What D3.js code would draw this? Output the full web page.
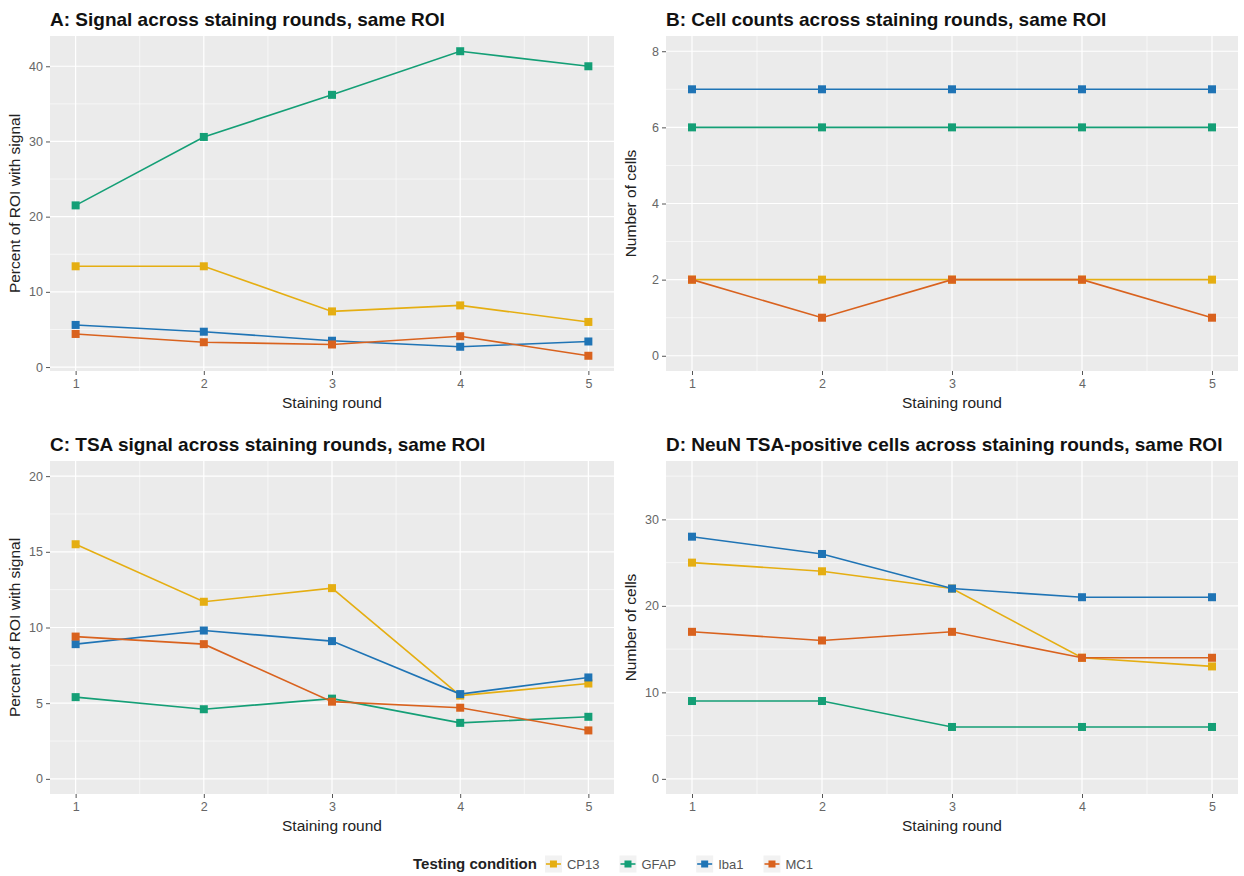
<!DOCTYPE html>
<html><head><meta charset="utf-8">
<script src="https://cdn.jsdelivr.net/npm/d3@7"></script>
<style>
body{margin:0;background:#fff;}
text{font-family:"Liberation Sans",Arial,Helvetica,sans-serif;}
</style></head>
<body><svg id="c" width="1244" height="876"></svg>
<script>
// ---------- data ----------
const rounds = [1, 2, 3, 4, 5];
const conditions = ["CP13", "GFAP", "Iba1", "MC1"];
const colors = ["#E5AE12", "#149F76", "#1F74B5", "#D9621E"];

// Panel A: percent of ROI with signal
const aCP13 = [13.4, 13.4, 7.4, 8.2, 6.0];
const aGFAP = [21.5, 30.6, 36.2, 42.0, 40.0];
const aIba1 = [5.6, 4.7, 3.5, 2.7, 3.4];
const aMC1  = [4.4, 3.3, 3.0, 4.1, 1.5];
// Panel B: cell counts
const bCP13 = [2, 2, 2, 2, 2];
const bGFAP = [6, 6, 6, 6, 6];
const bIba1 = [7, 7, 7, 7, 7];
const bMC1  = [2, 1, 2, 2, 1];
// Panel C: TSA signal percent
const cCP13 = [15.5, 11.7, 12.6, 5.5, 6.3];
const cGFAP = [5.4, 4.6, 5.3, 3.7, 4.1];
const cIba1 = [8.9, 9.8, 9.1, 5.6, 6.7];
const cMC1  = [9.4, 8.9, 5.1, 4.7, 3.2];
// Panel D: NeuN TSA-positive cells
const dCP13 = [25, 24, 22, 14, 13];
const dGFAP = [9, 9, 6, 6, 6];
const dIba1 = [28, 26, 22, 21, 21];
const dMC1  = [17, 16, 17, 14, 14];

const yTicksA = [0, 10, 20, 30, 40];
const yTicksB = [0, 2, 4, 6, 8];
const yTicksC = [0, 5, 10, 15, 20];
const yTicksD = [0, 10, 20, 30];

const titles = [
  "A: Signal across staining rounds, same ROI",
  "B: Cell counts across staining rounds, same ROI",
  "C: TSA signal across staining rounds, same ROI",
  "D: NeuN TSA-positive cells across staining rounds, same ROI"
];
const yTitles = ["Percent of ROI with signal", "Number of cells", "Percent of ROI with signal", "Number of cells"];
const xTitle = "Staining round";
const legendTitle = "Testing condition";

// ---------- layout ----------
const svg = d3.select("#c");
const cols = [{x0: 50, x1: 614}, {x0: 666, x1: 1238}];
const rows = [{y0: 36, y1: 371}, {y0: 461, y1: 794}];

function expandRange(lo, hi) { const e = (hi - lo) * 0.05; return [lo - e, hi + e]; }

const panels = [
  {col: 0, row: 0, series: [aCP13, aGFAP, aIba1, aMC1], ticks: yTicksA, minors: [5, 15, 25, 35], dom: expandRange(d3.min([aCP13, aGFAP, aIba1, aMC1].flat()), d3.max([aCP13, aGFAP, aIba1, aMC1].flat()))},
  {col: 1, row: 0, series: [bCP13, bGFAP, bIba1, bMC1], ticks: yTicksB, minors: [1, 3, 5, 7], dom: expandRange(0, 8)},
  {col: 0, row: 1, series: [cCP13, cGFAP, cIba1, cMC1], ticks: yTicksC, minors: [2.5, 7.5, 12.5, 17.5], dom: expandRange(0, 20)},
  {col: 1, row: 1, series: [dCP13, dGFAP, dIba1, dMC1], ticks: yTicksD, minors: [5, 15, 25, 35], dom: expandRange(0, 35)}
];

panels.forEach((p, i) => {
  const c = cols[p.col], r = rows[p.row];
  const x = d3.scaleLinear().domain(expandRange(1, 5)).range([c.x0, c.x1]);
  const y = d3.scaleLinear().domain(p.dom).range([r.y1, r.y0]);
  const g = svg.append("g");
  g.append("rect").attr("x", c.x0).attr("y", r.y0).attr("width", c.x1 - c.x0).attr("height", r.y1 - r.y0).attr("fill", "#EBEBEB");
  g.selectAll(".ymin").data(p.minors.filter(v => v > p.dom[0] && v < p.dom[1])).enter().append("line")
    .attr("x1", c.x0).attr("x2", c.x1).attr("y1", d => y(d)).attr("y2", d => y(d))
    .attr("stroke", "#fff").attr("stroke-width", 0.6);
  g.selectAll(".xmin").data([1.5, 2.5, 3.5, 4.5]).enter().append("line")
    .attr("y1", r.y0).attr("y2", r.y1).attr("x1", d => x(d)).attr("x2", d => x(d))
    .attr("stroke", "#fff").attr("stroke-width", 0.6);
  g.selectAll(".ymaj").data(p.ticks).enter().append("line")
    .attr("x1", c.x0).attr("x2", c.x1).attr("y1", d => y(d)).attr("y2", d => y(d))
    .attr("stroke", "#fff").attr("stroke-width", 1.2);
  g.selectAll(".xmaj").data(rounds).enter().append("line")
    .attr("y1", r.y0).attr("y2", r.y1).attr("x1", d => x(d)).attr("x2", d => x(d))
    .attr("stroke", "#fff").attr("stroke-width", 1.2);
  const ya = d3.axisLeft(y).tickValues(p.ticks).tickSize(4).tickPadding(3).tickFormat(d3.format("d"));
  const ga = g.append("g").attr("transform", `translate(${c.x0},0)`).call(ya);
  const xa = d3.axisBottom(x).tickValues(rounds).tickSize(4).tickPadding(4).tickFormat(d3.format("d"));
  const gx = g.append("g").attr("transform", `translate(0,${r.y1})`).call(xa);
  [ga, gx].forEach(a => {
    a.select(".domain").remove();
    a.selectAll(".tick line").attr("stroke", "#555").attr("stroke-width", 1);
    a.selectAll(".tick text").attr("fill", "#666").style("font-size", "12.5px").style("font-family", '"Liberation Sans",Arial,sans-serif');
  });
  p.series.forEach((s, k) => {
    const line = d3.line().x((d, j) => x(rounds[j])).y(d => y(d));
    g.append("path").datum(s).attr("d", line).attr("fill", "none").attr("stroke", colors[k]).attr("stroke-width", 1.6);
    g.selectAll(null).data(s).enter().append("rect")
      .attr("x", (d, j) => x(rounds[j]) - 4).attr("y", d => y(d) - 4)
      .attr("width", 8).attr("height", 8).attr("fill", colors[k]);
  });
  g.append("text").attr("x", c.x0).attr("y", r.y0 - 10).text(titles[i])
    .style("font-size", "19px").style("font-weight", "bold").attr("fill", "#111");
  g.append("text").attr("x", (c.x0 + c.x1) / 2).attr("y", r.y1 + 37).attr("text-anchor", "middle")
    .text(xTitle).style("font-size", "15.5px").attr("fill", "#222");
  g.append("text").attr("transform", `translate(${c.x0 - 30},${(r.y0 + r.y1) / 2}) rotate(-90)`)
    .attr("text-anchor", "middle").text(yTitles[i]).style("font-size", "15.5px").attr("fill", "#222");
});

// ---------- legend ----------
const lg = svg.append("g");
const ly = 864;
const lt = lg.append("text").attr("y", ly + 5).text(legendTitle).style("font-size", "15px").style("font-weight", "bold").attr("fill", "#222");
const items = conditions.map(name => lg.append("text").attr("y", ly + 4.5).text(name).style("font-size", "13px").attr("fill", "#555"));
const tW = lt.node().getComputedTextLength();
const widths = items.map(t => t.node().getComputedTextLength());
const keyW = 17, gapTitle = 8, gapText = 5, gapItem = 20;
const total = tW + gapTitle + d3.sum(widths.map(w => keyW + gapText + w)) + gapItem * (conditions.length - 1);
let cx = 613 - total / 2;
lt.attr("x", cx);
cx += tW + gapTitle;
conditions.forEach((name, k) => {
  lg.append("rect").attr("x", cx).attr("y", ly - 8.5).attr("width", keyW).attr("height", keyW).attr("fill", "#F2F2F2");
  lg.append("line").attr("x1", cx + 1).attr("x2", cx + keyW - 1).attr("y1", ly).attr("y2", ly).attr("stroke", colors[k]).attr("stroke-width", 1.6);
  lg.append("rect").attr("x", cx + keyW / 2 - 3.5).attr("y", ly - 3.5).attr("width", 7).attr("height", 7).attr("fill", colors[k]);
  items[k].attr("x", cx + keyW + gapText);
  cx += keyW + gapText + widths[k] + gapItem;
});
</script></body></html>
